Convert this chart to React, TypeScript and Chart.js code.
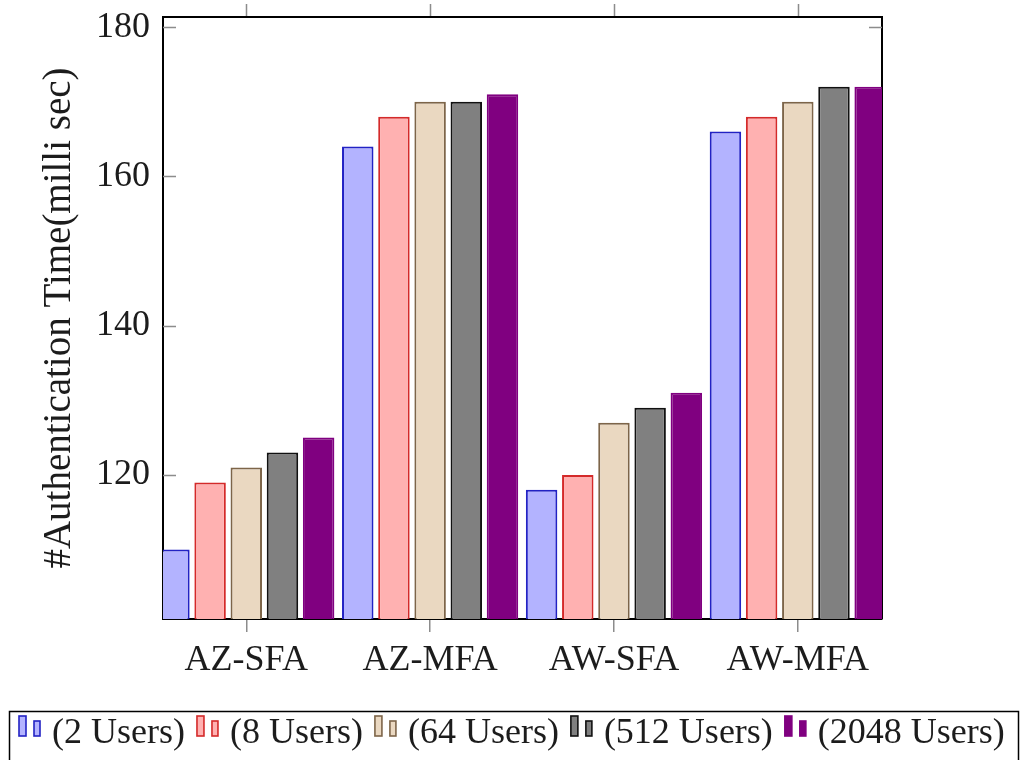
import { useEffect, useRef } from 'react';
import { Chart, registerables } from 'chart.js';

Chart.register(...registerables);

// Category groups along the x axis
const categories = ['AZ-SFA', 'AZ-MFA', 'AW-SFA', 'AW-MFA'];

// Authentication time (ms) per user count, one value per category
const seriesLabels = ['(2 Users)', '(8 Users)', '(64 Users)', '(512 Users)', '(2048 Users)'];
const users2 = [110, 164, 118, 166];
const users8 = [119, 168, 120, 168];
const users64 = [121, 170, 127, 170];
const users512 = [123, 170, 129, 172];
const users2048 = [125, 171, 131, 172];

const yTicks = [120, 140, 160, 180];

const FONT = "'Liberation Serif', 'Times New Roman', serif";
const TEXT = '#1c1c1c';
const TICK = '#8c8c8c';

const fills = ['#b3b3ff', '#ffb1b1', '#ead8c1', '#808080', '#800080'];
const strokes = ['#2222c4', '#d42a2a', '#7d6549', '#111111', '#800080'];
const seriesValues = [users2, users8, users64, users512, users2048];

// Frame, inward/outward tick marks and the boxed legend below the axis
const framePlugin = {
  id: 'frameAndLegend',
  beforeDatasetsDraw(chart: any) {
    const { ctx, chartArea: a, scales } = chart;
    const xs = scales.x;
    const ys = scales.y;
    ctx.save();
    ctx.strokeStyle = '#000';
    ctx.lineWidth = 2;
    ctx.beginPath();
    ctx.moveTo(a.left - 1, a.top);
    ctx.lineTo(a.right, a.top);
    ctx.lineTo(a.right, a.bottom);
    ctx.stroke();

    ctx.strokeStyle = TICK;
    ctx.lineWidth = 1.5;
    ctx.beginPath();
    yTicks.forEach((v) => {
      const py = Math.round(ys.getPixelForValue(v)) + 0.5;
      ctx.moveTo(a.left, py);
      ctx.lineTo(a.left + 13, py);
      ctx.moveTo(a.right - 13, py);
      ctx.lineTo(a.right, py);
    });
    categories.forEach((_, i) => {
      const px = Math.round(xs.getPixelForValue(i)) + 0.5;
      ctx.moveTo(px, a.top - 1);
      ctx.lineTo(px, a.top - 13);
    });
    ctx.stroke();
    ctx.restore();
  },
  afterDraw(chart: any) {
    const { ctx } = chart;
    ctx.save();
    ctx.strokeStyle = '#000';
    ctx.lineWidth = 1.5;
    ctx.strokeRect(9.5, 711.5, 1009, 80);

    ctx.font = `36px ${FONT}`;
    ctx.textBaseline = 'alphabetic';
    ctx.textAlign = 'left';
    let cur = 17;
    chart.data.datasets.forEach((ds: any) => {
      ctx.fillStyle = ds.backgroundColor;
      ctx.strokeStyle = ds.borderColor;
      ctx.lineWidth = 1.6;
      ctx.fillRect(cur + 2, 716, 7, 20);
      ctx.strokeRect(cur + 2, 716, 7, 20);
      ctx.fillRect(cur + 17, 721, 6, 15);
      ctx.strokeRect(cur + 17, 721, 6, 15);
      ctx.fillStyle = TEXT;
      ctx.fillText(ds.label, cur + 35, 743);
      cur += 35 + ctx.measureText(ds.label).width + 10;
    });
    ctx.restore();
  },
};

const noPadding = (s: any) => {
  s.paddingTop = 0;
  s.paddingBottom = 0;
  s.paddingLeft = 0;
  s.paddingRight = 0;
};

export default function App() {
  const canvasRef = useRef<HTMLCanvasElement | null>(null);

  useEffect(() => {
    const canvas = canvasRef.current;
    if (!canvas) return;
    const chart = new Chart(canvas, {
      type: 'bar',
      data: {
        datasets: seriesLabels.map((label, s) => ({
          label,
          data: seriesValues[s].map((v, i) => ({ x: i, y: v })),
          backgroundColor: fills[s],
          borderColor: strokes[s],
          borderWidth: 2,
          borderSkipped: false,
          categoryPercentage: 0.984,
          barPercentage: 0.87,
          clip: 0,
        })),
      },
      options: {
        animation: false,
        responsive: false,
        maintainAspectRatio: false,
        layout: { padding: { left: 0, top: 17, right: 138, bottom: 0 } },
        plugins: {
          legend: { display: false },
          tooltip: { enabled: false },
        },
        scales: {
          x: {
            type: 'linear',
            min: -0.453,
            max: 3.458,
            offset: false,
            afterBuildTicks: (s: any) => {
              s.ticks = categories.map((_, i) => ({ value: i }));
            },
            afterFit: (s: any) => {
              s.height = 141;
              noPadding(s);
            },
            ticks: {
              callback: (v: any) => categories[v] ?? '',
              font: { family: FONT, size: 36 },
              color: TEXT,
              padding: 7,
              maxRotation: 0,
              autoSkip: false,
            },
            grid: {
              offset: false,
              drawOnChartArea: false,
              drawTicks: true,
              tickLength: 13,
              color: TICK,
              lineWidth: 1.5,
            },
            border: { color: '#000', width: 2 },
          },
          y: {
            type: 'linear',
            min: 100.7,
            max: 181.35,
            afterBuildTicks: (s: any) => {
              s.ticks = yTicks.map((v) => ({ value: v }));
            },
            afterFit: (s: any) => {
              s.width = 163;
              noPadding(s);
            },
            ticks: {
              font: { family: FONT, size: 36 },
              color: TEXT,
              padding: 13,
            },
            grid: { display: false, drawTicks: false },
            border: { color: '#000', width: 2 },
            title: {
              display: true,
              text: '#Authentication Time(milli sec)',
              font: { family: FONT, size: 39 },
              color: TEXT,
              padding: { top: 36, bottom: 0 },
            },
          },
        },
      },
      plugins: [framePlugin],
    } as any);
    return () => chart.destroy();
  }, []);

  return (
    <div style={{ position: 'absolute', left: 0, top: 0, width: 1020, height: 760, background: '#fff' }}>
      <canvas ref={canvasRef} width={1020} height={760} style={{ width: 1020, height: 760, display: 'block' }} />
    </div>
  );
}
